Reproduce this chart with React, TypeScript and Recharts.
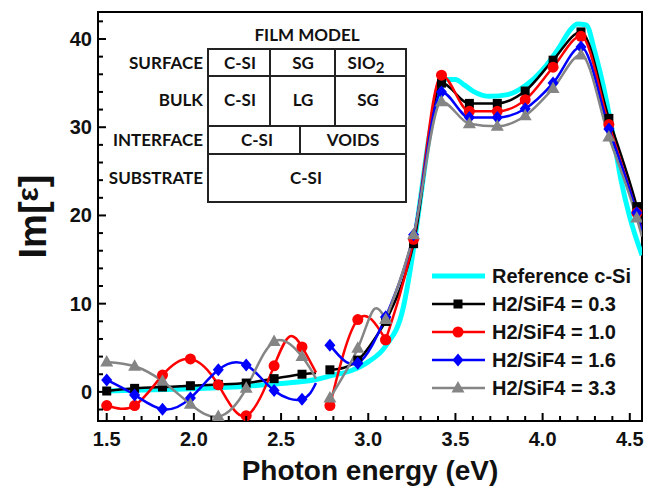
import React from 'react';
import { LineChart, Line, XAxis, YAxis, ReferenceArea, Legend } from 'recharts';

// energies (eV) that carry a symbol; other points only shape the line
const markerE = [1.5, 1.66, 1.82, 1.98, 2.14, 2.3, 2.46, 2.62, 2.78, 2.94, 3.1, 3.26, 3.42, 3.58, 3.74, 3.9, 4.06, 4.22, 4.38, 4.54];

// Reference c-Si
const refSi: [number, number][] = [
    [1.5, 0.1], [1.7, 0.2], [1.9, 0.3], [2.1, 0.45], [2.3, 0.65], [2.5, 0.95], [2.7, 1.4], [2.8, 1.9],
    [2.9, 2.4], [3.0, 3.4], [3.1, 5.2], [3.2, 9.5], [3.25, 15], [3.3, 22], [3.35, 29], [3.4, 33.5],
    [3.45, 35.4], [3.5, 35.4], [3.55, 34.8], [3.6, 34.1], [3.7, 33.5], [3.8, 33.7], [3.9, 34.7],
    [4.0, 36.5], [4.1, 39.2], [4.15, 40.8], [4.2, 41.7], [4.25, 41.6], [4.3, 38.5], [4.35, 34.5],
    [4.4, 29.5], [4.45, 24], [4.5, 19.8], [4.57, 15.5],
];

// H2/SiF4 = 0.3
const r03: [number, number | null][] = [
    [1.5, 0.1], [1.66, 0.4], [1.82, 0.55], [1.98, 0.7], [2.14, 0.85], [2.3, 1.0], [2.46, 1.5], [2.62, 2.0],
    [2.7, 2.15], [2.74, null], [2.78, 2.5], [2.94, 3.6], [3.1, 8.0], [3.26, 16.8], [3.42, 35.0],
    [3.58, 32.7], [3.74, 32.7], [3.9, 34.1], [4.06, 37.6], [4.22, 40.8], [4.38, 31.0], [4.54, 21.0], [4.57, 18.7],
];

// H2/SiF4 = 1.0
const r10: [number, number | null][] = [
    [1.5, -1.55], [1.66, -1.55], [1.82, 1.9], [1.98, 3.74], [2.14, 0.8], [2.3, -2.7], [2.46, 2.95],
    [2.55, 6.3], [2.62, 5.1], [2.7, 2.2], [2.74, null], [2.78, -1.55], [2.94, 8.2], [3.1, 5.9],
    [3.26, 17.3], [3.42, 35.9], [3.58, 31.8], [3.74, 31.8], [3.9, 33.1], [4.06, 36.8], [4.22, 40.3],
    [4.38, 30.3], [4.54, 20.3], [4.57, 18.2],
];

// H2/SiF4 = 1.6
const r16: [number, number | null][] = [
    [1.5, 1.36], [1.66, -0.34], [1.82, -1.96], [1.98, -0.7], [2.14, 2.5], [2.3, 3.06], [2.46, 0.15],
    [2.62, -0.83], [2.7, 1.0], [2.74, null], [2.78, 5.3], [2.94, 3.25], [3.1, 8.5], [3.26, 17.8],
    [3.42, 34.0], [3.58, 31.1], [3.74, 31.1], [3.9, 32.1], [4.06, 35.0], [4.22, 39.1], [4.38, 29.8],
    [4.54, 20.3], [4.57, 18.2],
];

// H2/SiF4 = 3.3
const r33: [number, number | null][] = [
    [1.5, 3.4], [1.66, 2.9], [1.82, 1.2], [1.98, -1.4], [2.14, -2.8], [2.3, 0.4], [2.46, 5.7], [2.62, 4.0],
    [2.7, 1.5], [2.74, null], [2.78, -0.7], [2.94, 4.95], [3.03, 9.3], [3.1, 8.2], [3.26, 17.8],
    [3.42, 32.9], [3.58, 30.4], [3.74, 30.1], [3.9, 31.3], [4.06, 34.4], [4.22, 38.2], [4.38, 28.9],
    [4.54, 19.7], [4.57, 17.6],
];

const xDomain = [1.45, 4.57];
const yDomain = [-3.3, 43.06];
const xTicks = [1.5, 1.6, 1.7, 1.8, 1.9, 2.0, 2.1, 2.2, 2.3, 2.4, 2.5, 2.6, 2.7, 2.8, 2.9, 3.0, 3.1, 3.2, 3.3, 3.4, 3.5, 3.6, 3.7, 3.8, 3.9, 4.0, 4.1, 4.2, 4.3, 4.4, 4.5];
const xLabels = [1.5, 2.0, 2.5, 3.0, 3.5, 4.0, 4.5];
const yTicks = [-2, 0, 2, 4, 6, 8, 10, 12, 14, 16, 18, 20, 22, 24, 26, 28, 30, 32, 34, 36, 38, 40, 42];
const yLabels = [0, 10, 20, 30, 40];

// above this energy the curves are joined monotonically (sharp peaks), below with a spline
const SPLIT_E = 3.1;

const series = [
    { name: 'H2/SiF4 = 0.3', data: r03, color: '#000000', shape: 'square' },
    { name: 'H2/SiF4 = 1.0', data: r10, color: '#ff0000', shape: 'circle' },
    { name: 'H2/SiF4 = 1.6', data: r16, color: '#0000ff', shape: 'diamond' },
    { name: 'H2/SiF4 = 3.3', data: r33, color: '#858585', shape: 'triangle' },
];

const toRows = (pts: [number, number | null][]) => pts.map(([e, v]) => ({ e, v }));

const FONT = '"Liberation Sans", Arial, sans-serif';
const TABLE_FONT = 'Lato, "Open Sans", sans-serif';

const Marker = ({ shape, cx, cy, color }: any) => {
    if (shape === 'square') return <rect x={cx - 4.5} y={cy - 4.5} width={9} height={9} fill={color} />;
    if (shape === 'circle') return <circle cx={cx} cy={cy} r={5.5} fill={color} />;
    if (shape === 'diamond')
        return <polygon points={`${cx},${cy - 6.5} ${cx + 5.5},${cy} ${cx},${cy + 6.5} ${cx - 5.5},${cy}`} fill={color} />;
    return <polygon points={`${cx},${cy - 7} ${cx + 6.5},${cy + 4.5} ${cx - 6.5},${cy + 4.5}`} fill={color} />;
};

const makeDot = (shape: string, color: string) => (props: any) => {
    const { cx, cy, payload, index } = props;
    if (cx == null || cy == null || payload.v == null || !markerE.includes(payload.e)) return <g key={index} />;
    return (
        <g key={index}>
            <Marker shape={shape} cx={cx} cy={cy} color={color} />
        </g>
    );
};

const XTick = (props: any) => {
    const { x, y, payload } = props;
    const major = xLabels.some((m) => Math.abs(m - payload.value) < 1e-6);
    return (
        <g>
            <line x1={x} x2={x} y1={y} y2={y - (major ? 8 : 5)} stroke="#000" strokeWidth={2} />
            {major && (
                <text x={x} y={y + 25} textAnchor="middle" fontFamily={FONT} fontWeight="bold" fontSize={20} fill="#111">
                    {payload.value.toFixed(1)}
                </text>
            )}
        </g>
    );
};

const YTick = (props: any) => {
    const { x, y, payload } = props;
    const major = yLabels.includes(payload.value);
    return (
        <g>
            <line x1={x} x2={x + (major ? 8 : 5)} y1={y} y2={y} stroke="#000" strokeWidth={2} />
            {major && (
                <text x={x - 6} y={y + 7} textAnchor="end" fontFamily={FONT} fontWeight="bold" fontSize={20} fill="#111">
                    {payload.value}
                </text>
            )}
        </g>
    );
};

const YTitle = (props: any) => {
    const vb = props.viewBox;
    const cx = vb.x + 33;
    const cy = vb.y + vb.height / 2;
    return (
        <text x={cx} y={cy} transform={`rotate(-90 ${cx} ${cy})`} textAnchor="middle" dominantBaseline="central"
            fontFamily={FONT} fontWeight="bold" fontSize={38} fill="#111">
            Im[<tspan dy={-6} fontSize={30}>ε</tspan><tspan dy={6}>]</tspan>
        </text>
    );
};

const XTitle = (props: any) => {
    const vb = props.viewBox;
    return (
        <text x={vb.x + vb.width / 2} y={vb.y + 59} textAnchor="middle" fontFamily={FONT} fontWeight="bold" fontSize={28} fill="#111">
            Photon energy (eV)
        </text>
    );
};

const LegendBox = () => (
    <svg width={215} height={140}>
        <g>
            <line x1={2} x2={55} y1={14} y2={14} stroke="#00ffff" strokeWidth={5} />
            <text x={62} y={21} fontFamily={FONT} fontWeight="bold" fontSize={20} fill="#111">Reference c-Si</text>
        </g>
        {series.map((s, i) => {
            const y = 14 + (i + 1) * 28;
            return (
                <g key={s.name}>
                    <line x1={2} x2={55} y1={y} y2={y} stroke={s.color} strokeWidth={2.5} />
                    <Marker shape={s.shape} cx={28} cy={y} color={s.color} />
                    <text x={62} y={y + 7} fontFamily={FONT} fontWeight="bold" fontSize={20} fill="#111">{s.name}</text>
                </g>
            );
        })}
    </svg>
);

// film model inset
const FilmModel = () => {
    const ts = { fontFamily: TABLE_FONT, fontWeight: 700, fontSize: 17, fill: '#111' } as const;
    const ln = { stroke: '#222', strokeWidth: 2 };
    return (
        <svg width={647} height={490} style={{ position: 'absolute', left: 0, top: 0, pointerEvents: 'none' }}>
            <text x={307} y={41} textAnchor="middle" {...ts}>FILM MODEL</text>
            <rect x={208} y={49} width={198} height={153} fill="none" {...ln} />
            <line x1={208} x2={406} y1={76} y2={76} {...ln} />
            <line x1={208} x2={406} y1={126} y2={126} {...ln} />
            <line x1={208} x2={406} y1={154} y2={154} {...ln} />
            <line x1={270} x2={270} y1={49} y2={126} {...ln} />
            <line x1={335} x2={335} y1={49} y2={126} {...ln} />
            <line x1={300} x2={300} y1={126} y2={154} {...ln} />
            <g textAnchor="end">
                <text x={203} y={69} {...ts}>SURFACE</text>
                <text x={203} y={106} {...ts}>BULK</text>
                <text x={203} y={146} {...ts}>INTERFACE</text>
                <text x={203} y={184} {...ts}>SUBSTRATE</text>
            </g>
            <g textAnchor="middle">
                <text x={240} y={69} {...ts}>C-SI</text>
                <text x={303} y={69} {...ts}>SG</text>
                <text x={366} y={69} {...ts}>SIO<tspan dy={4} fontSize={15}>2</tspan></text>
                <text x={240} y={106} {...ts}>C-SI</text>
                <text x={303} y={106} {...ts}>LG</text>
                <text x={368} y={106} {...ts}>SG</text>
                <text x={257} y={146} {...ts}>C-SI</text>
                <text x={353} y={146} {...ts}>VOIDS</text>
                <text x={306} y={184} {...ts}>C-SI</text>
            </g>
        </svg>
    );
};

export default function App() {
    return (
        <div style={{ position: 'absolute', left: 0, top: 0, width: 647, height: 490, background: '#fff' }}>
            <LineChart width={647} height={490} margin={{ top: 12, right: 5, bottom: 0, left: 0 }}>
                <XAxis
                    dataKey="e"
                    type="number"
                    domain={xDomain}
                    allowDataOverflow
                    ticks={xTicks}
                    interval={0}
                    tickSize={0}
                    tickMargin={0}
                    tickLine={false}
                    tick={<XTick />}
                    height={69}
                    axisLine={{ stroke: '#000', strokeWidth: 2 }}
                    label={<XTitle />}
                />
                <YAxis
                    type="number"
                    domain={yDomain}
                    allowDataOverflow
                    ticks={yTicks}
                    interval={0}
                    tickSize={0}
                    tickMargin={0}
                    tickLine={false}
                    tick={<YTick />}
                    width={98}
                    axisLine={{ stroke: '#000', strokeWidth: 2 }}
                    label={<YTitle />}
                />
                <ReferenceArea x1={xDomain[0]} x2={xDomain[1]} y1={yDomain[0]} y2={yDomain[1]} fill="none" stroke="#000" strokeWidth={2} />

                {/* reference curve */}
                <Line
                    data={refSi.map(([e, v]) => ({ e, v }))}
                    dataKey="v"
                    type="monotone"
                    stroke="#00ffff"
                    strokeWidth={5}
                    dot={false}
                    isAnimationActive={false}
                />

                {/* low-energy part: smooth spline through the oscillations */}
                {series.map((s) => (
                    <Line
                        key={s.name + '-low'}
                        data={toRows(s.data.filter(([e]) => e <= SPLIT_E))}
                        dataKey="v"
                        name={s.name}
                        type="natural"
                        stroke={s.color}
                        strokeWidth={2.5}
                        dot={makeDot(s.shape, s.color)}
                        activeDot={false}
                        connectNulls={false}
                        isAnimationActive={false}
                    />
                ))}

                {/* absorption peaks */}
                {series.map((s) => (
                    <Line
                        key={s.name + '-high'}
                        data={toRows(s.data.filter(([e]) => e >= SPLIT_E))}
                        dataKey="v"
                        type="monotone"
                        stroke={s.color}
                        strokeWidth={2.5}
                        dot={makeDot(s.shape, s.color)}
                        activeDot={false}
                        isAnimationActive={false}
                    />
                ))}

                <Legend
                    layout="vertical"
                    align="center"
                    verticalAlign="middle"
                    content={<LegendBox />}
                    wrapperStyle={{ left: 430, top: 262, width: 215, height: 140 }}
                />
            </LineChart>
            <FilmModel />
        </div>
    );
}
